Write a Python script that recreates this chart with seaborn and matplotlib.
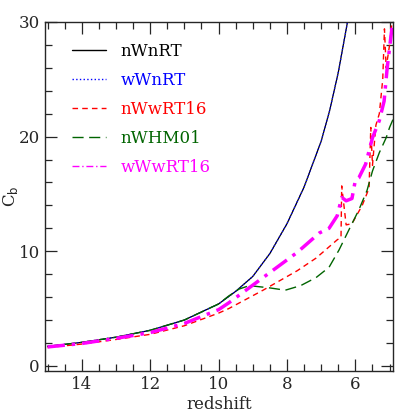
import numpy as np
import pandas as pd
import matplotlib
matplotlib.use("Agg")
import matplotlib.pyplot as plt
from matplotlib.ticker import MultipleLocator
import seaborn as sns

sns.set_style("ticks")
plt.rcParams['font.family'] = ['DejaVu Serif']

# values
z_nWnRT = [15, 14, 13, 12, 11, 10, 9.5, 9.0, 8.5, 8.0, 7.5, 7.0, 6.75, 6.5, 6.2]
c_nWnRT = [1.7, 2.05, 2.5, 3.1, 4.0, 5.4, 6.5, 7.8, 9.8, 12.4, 15.6, 19.6, 22.3, 25.6, 30.5]

z_wWnRT = z_nWnRT
c_wWnRT = c_nWnRT

z_nWHM01 = [15, 14, 13, 12, 11, 10, 9.7, 9.4, 9.1, 8.5, 8.05, 7.6, 7.15, 6.77, 6.48,
            6.2, 5.9, 5.66, 5.5, 5.3, 5.1, 5.0, 4.9]
c_nWHM01 = [1.7, 2.05, 2.5, 3.1, 4.0, 5.4, 6.1, 6.7, 7.0, 6.8, 6.6, 7.0, 7.7, 8.6, 10.1,
            11.8, 13.6, 15.3, 17.0, 18.6, 19.9, 20.8, 21.5]

z_nWwRT16 = [15, 14, 13, 12, 11, 10, 9.7, 8.7, 7.7, 7.15, 6.53, 6.42, 6.4, 6.27, 6.1,
             5.8, 5.6, 5.55, 5.5, 5.4, 5.3, 5.2, 5.15, 5.1, 5.0, 4.93]
c_nWwRT16 = [1.6, 1.9, 2.3, 2.75, 3.5, 4.6, 5.0, 6.6, 8.3, 9.4, 11.0, 11.2, 15.7, 12.3, 12.4,
             14.0, 15.5, 20.8, 17.5, 21.0, 22.0, 25.0, 29.4, 26.0, 28.0, 30.0]

z_wWwRT16 = [15, 14, 13, 12, 11, 10, 9.7, 8.7, 7.7, 7.05, 6.77, 6.53, 6.4, 6.27, 6.1,
             6.0, 5.9, 5.7, 5.5, 5.3, 5.16, 5.07, 4.93]
c_wWwRT16 = [1.65, 1.95, 2.4, 2.9, 3.7, 4.9, 5.5, 7.7, 9.9, 11.6, 12.0, 13.1, 14.7, 14.4, 14.6,
             16.2, 16.4, 17.6, 19.9, 21.4, 23.1, 26.0, 29.5]

series = [
    ("nWnRT", z_nWnRT, c_nWnRT, "black", "-", 0.9),
    ("wWnRT", z_wWnRT, c_wWnRT, "blue", ":", 0.9),
    ("nWwRT16", z_nWwRT16, c_nWwRT16, "red", (0, (4, 3)), 1.0),
    ("nWHM01", z_nWHM01, c_nWHM01, "darkgreen", (0, (8, 4)), 1.0),
    ("wWwRT16", z_wWwRT16, c_wWwRT16, "magenta", (0, (5, 2, 1, 2)), 2.5),
]

fig = plt.figure(figsize=(4.15, 4.15), dpi=100)
ax = fig.add_axes([0.108, 0.106, 0.839, 0.841])

for name, z, c, col, ls, lw in series:
    df = pd.DataFrame({"z": z, "C": c})
    sns.lineplot(data=df, x="z", y="C", ax=ax, color=col, linestyle=ls,
                 linewidth=lw, label=name, sort=False, estimator=None)

ax.set_xlim(15.08, 4.9)
ax.set_ylim(-0.45, 30)
ax.xaxis.set_major_locator(MultipleLocator(2))
ax.xaxis.set_minor_locator(MultipleLocator(0.5))
ax.yaxis.set_major_locator(MultipleLocator(10))
ax.yaxis.set_minor_locator(MultipleLocator(2))
ax.tick_params(which="both", direction="in", top=True, right=True, labelsize=12)
ax.tick_params(which="major", length=8.5, width=0.9)
ax.tick_params(which="minor", length=5, width=0.9)
for s in ax.spines.values():
    s.set_linewidth(1.0)

ax.set_xlabel("redshift", fontsize=12, labelpad=2)
ax.set_ylabel(r"C$_{\rm b}$", fontsize=12)
ax.yaxis.set_label_coords(-0.07, 0.5)

leg = ax.legend(loc="upper left", frameon=False, fontsize=12, handlelength=2.0,
                handletextpad=0.9, borderaxespad=0.0, labelspacing=0.72,
                bbox_to_anchor=(0.06, 0.96))
for txt, line, (name, z, c, col, ls, lw) in zip(leg.get_texts(), leg.get_lines(), series):
    txt.set_color(col)
    line.set_linewidth(1.0)

fig.savefig("out.png", dpi=100)
